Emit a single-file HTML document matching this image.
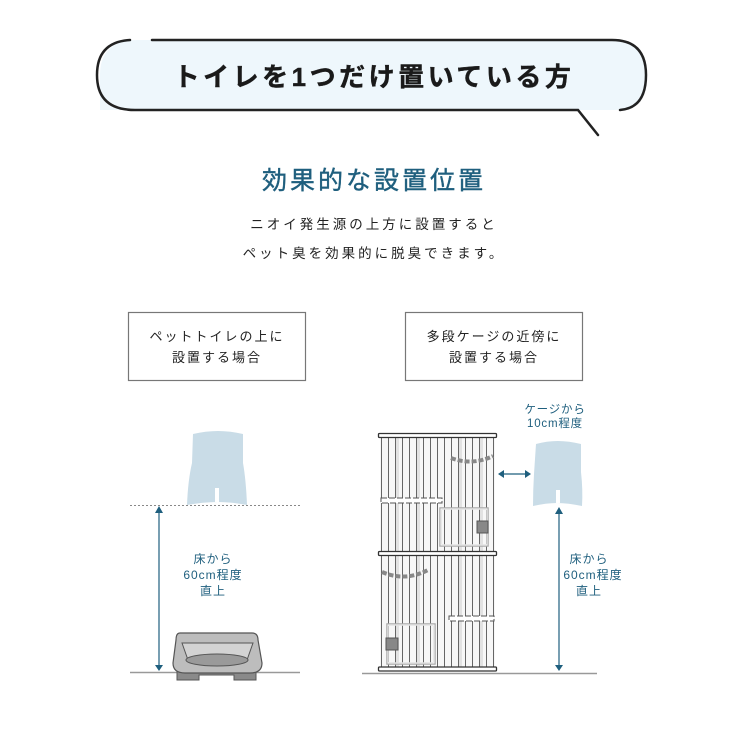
<!DOCTYPE html>
<html><head><meta charset="utf-8"><style>
html,body{margin:0;padding:0;background:#fff;}
svg{display:block;}
text{font-family:"Liberation Sans","Noto Sans CJK JP",sans-serif;}
</style></head><body>
<svg width="750" height="750" viewBox="0 0 750 750" xmlns="http://www.w3.org/2000/svg">
<!-- bubble -->
<path d="M100 75 Q100 40 138 40 L612 40 Q647 40 647 75 Q647 110 612 110 L100 110 Z" fill="#eef7fc" stroke="none"/>
<path d="M130 40 Q97 42 97 75 Q97 110 135 110 L578 110 L598 135" fill="none" stroke="#222" stroke-width="2.5" stroke-linecap="round"/>
<path d="M152 40 L612 40 Q646 40 646 75 Q646 108 620 110" fill="none" stroke="#222" stroke-width="2.5" stroke-linecap="round"/>
<text x="374" y="86" text-anchor="middle" font-size="26" font-weight="bold" fill="#1a1a1a" letter-spacing="3.5" stroke="#1a1a1a" stroke-width="0.4">トイレを1つだけ置いている方</text>

<text x="374" y="189" text-anchor="middle" font-size="25" fill="#1f5f7e" letter-spacing="3" stroke="#1f5f7e" stroke-width="0.4">効果的な設置位置</text>
<text x="374" y="229" text-anchor="middle" font-size="13.5" fill="#222" letter-spacing="3">ニオイ発生源の上方に設置すると</text>
<text x="374" y="258" text-anchor="middle" font-size="13.5" fill="#222" letter-spacing="3">ペット臭を効果的に脱臭できます。</text>

<rect x="128.5" y="312.5" width="177" height="68" fill="#fff" stroke="#777" stroke-width="1.2"/>
<text x="217" y="341" text-anchor="middle" font-size="13" fill="#222" letter-spacing="2">ペットトイレの上に</text>
<text x="217" y="362" text-anchor="middle" font-size="13" fill="#222" letter-spacing="2">設置する場合</text>
<rect x="405.5" y="312.5" width="177" height="68" fill="#fff" stroke="#777" stroke-width="1.2"/>
<text x="494" y="341" text-anchor="middle" font-size="13" fill="#222" letter-spacing="2">多段ケージの近傍に</text>
<text x="494" y="362" text-anchor="middle" font-size="13" fill="#222" letter-spacing="2">設置する場合</text>

<!-- left figure -->
<path d="M193 434 Q218 428 243 434 L243 463 Q246 480 247 505 Q232 502 218 502 Q203 502 187 505 Q188 480 192 463 Z" fill="#c9dce7"/>
<rect x="215" y="488" width="4" height="14" fill="#fff"/>
<line x1="130" y1="505.5" x2="300" y2="505.5" stroke="#888" stroke-width="1" stroke-dasharray="2,2"/>
<line x1="159" y1="510" x2="159" y2="668" stroke="#1f5f7e" stroke-width="1.2"/>
<path d="M155 513 L159 506 L163 513 Z M155 665 L159 671 L163 665 Z" fill="#1f5f7e"/>
<text x="213" y="563" text-anchor="middle" font-size="12" fill="#1f5f7e" letter-spacing="1">床から</text>
<text x="213" y="579" text-anchor="middle" font-size="12" fill="#1f5f7e" letter-spacing="1">60cm程度</text>
<text x="213" y="595" text-anchor="middle" font-size="12" fill="#1f5f7e" letter-spacing="1">直上</text>
<line x1="130" y1="672.5" x2="300" y2="672.5" stroke="#999" stroke-width="1.5"/>
<path d="M177 670 L177 680 L199 680 L199 675 L234 675 L234 680 L256 680 L256 670 Z" fill="#8a8a8a" stroke="#555" stroke-width="1"/>
<path d="M180 633 Q176 633 176 640 L173 663 Q173 673 185 673 L250 673 Q262 673 262 663 L258 640 Q258 633 252 633 Z" fill="#bdbdbd" stroke="#555" stroke-width="1.2"/>
<path d="M182 643 L188 660 Q218 652 247 660 L253 643 Z" fill="#d3d3d3" stroke="#555" stroke-width="1"/>
<ellipse cx="217" cy="660" rx="31" ry="6" fill="#9a9a9a" stroke="#555" stroke-width="1"/>

<!-- cage -->
<rect x="380" y="436" width="115" height="232" fill="#f7f7f7"/>
<g fill="#e2e2e2">
<rect x="396" y="437" width="3" height="230"/><rect x="417" y="437" width="3" height="230"/><rect x="459" y="437" width="3" height="230"/><rect x="480" y="437" width="3" height="230"/>
</g>
<g stroke="#555" stroke-width="0.9">
<line x1="381.5" y1="436" x2="381.5" y2="668"/><line x1="388.5" y1="436" x2="388.5" y2="668"/><line x1="395.5" y1="436" x2="395.5" y2="668"/><line x1="402.5" y1="436" x2="402.5" y2="668"/><line x1="409.5" y1="436" x2="409.5" y2="668"/><line x1="416.5" y1="436" x2="416.5" y2="668"/><line x1="423.5" y1="436" x2="423.5" y2="668"/><line x1="430.5" y1="436" x2="430.5" y2="668"/><line x1="437.5" y1="436" x2="437.5" y2="668"/><line x1="444.5" y1="436" x2="444.5" y2="668"/><line x1="451.5" y1="436" x2="451.5" y2="668"/><line x1="458.5" y1="436" x2="458.5" y2="668"/><line x1="465.5" y1="436" x2="465.5" y2="668"/><line x1="472.5" y1="436" x2="472.5" y2="668"/><line x1="479.5" y1="436" x2="479.5" y2="668"/><line x1="486.5" y1="436" x2="486.5" y2="668"/><line x1="493.5" y1="436" x2="493.5" y2="668"/>
</g>
<path d="M451 458 Q472 466 493 456" fill="none" stroke="#888" stroke-width="4" stroke-dasharray="5,2"/>
<path d="M382 572 Q405 582 428 570" fill="none" stroke="#888" stroke-width="4" stroke-dasharray="5,2"/>
<rect x="381" y="498" width="61" height="5" fill="#fff" stroke="#555" stroke-width="1" stroke-dasharray="6,2"/>
<rect x="449" y="616" width="45" height="5" fill="#fff" stroke="#555" stroke-width="1" stroke-dasharray="6,2"/>
<rect x="440.5" y="508.5" width="47" height="37" fill="none" stroke="#aaa" stroke-width="2.5"/>
<rect x="441" y="509" width="46" height="36" fill="none" stroke="#fff" stroke-width="1"/>
<rect x="477" y="521" width="11" height="12" fill="#888" stroke="#555"/>
<rect x="387.5" y="624.5" width="47" height="39" fill="none" stroke="#aaa" stroke-width="2.5"/>
<rect x="388" y="625" width="46" height="38" fill="none" stroke="#fff" stroke-width="1"/>
<rect x="386" y="638" width="12" height="12" fill="#888" stroke="#555"/>
<rect x="378.5" y="433.5" width="118" height="4" rx="1" fill="#fff" stroke="#333" stroke-width="1.3"/>
<rect x="378.5" y="551.5" width="118" height="4" rx="1" fill="#fff" stroke="#333" stroke-width="1.3"/>
<rect x="378.5" y="667" width="118" height="4" rx="1" fill="#fff" stroke="#333" stroke-width="1.3"/>
<line x1="362" y1="673.5" x2="597" y2="673.5" stroke="#999" stroke-width="1.5"/>

<!-- right cat -->
<text x="555" y="413" text-anchor="middle" font-size="11.5" fill="#1f5f7e" letter-spacing="0.8">ケージから</text>
<text x="555" y="427" text-anchor="middle" font-size="11.5" fill="#1f5f7e" letter-spacing="0.8">10cm程度</text>
<path d="M536 444 Q557 438 581 444 L581 472 Q583 490 582 506 Q568 503 557 503 Q546 503 533 506 Q533 490 534 474 Z" fill="#c9dce7"/>
<rect x="556" y="490" width="4" height="13" fill="#fff"/>
<line x1="502" y1="474" x2="527" y2="474" stroke="#1f5f7e" stroke-width="1.2"/>
<path d="M504 470 L498 474 L504 478 Z M525 470 L531 474 L525 478 Z" fill="#1f5f7e"/>
<line x1="559" y1="511" x2="559" y2="668" stroke="#1f5f7e" stroke-width="1.2"/>
<path d="M555 514 L559 507 L563 514 Z M555 665 L559 671 L563 665 Z" fill="#1f5f7e"/>
<text x="589" y="563" text-anchor="middle" font-size="12" fill="#1f5f7e" letter-spacing="1">床から</text>
<text x="593" y="579" text-anchor="middle" font-size="12" fill="#1f5f7e" letter-spacing="1">60cm程度</text>
<text x="589" y="595" text-anchor="middle" font-size="12" fill="#1f5f7e" letter-spacing="1">直上</text>
</svg>
</body></html>
